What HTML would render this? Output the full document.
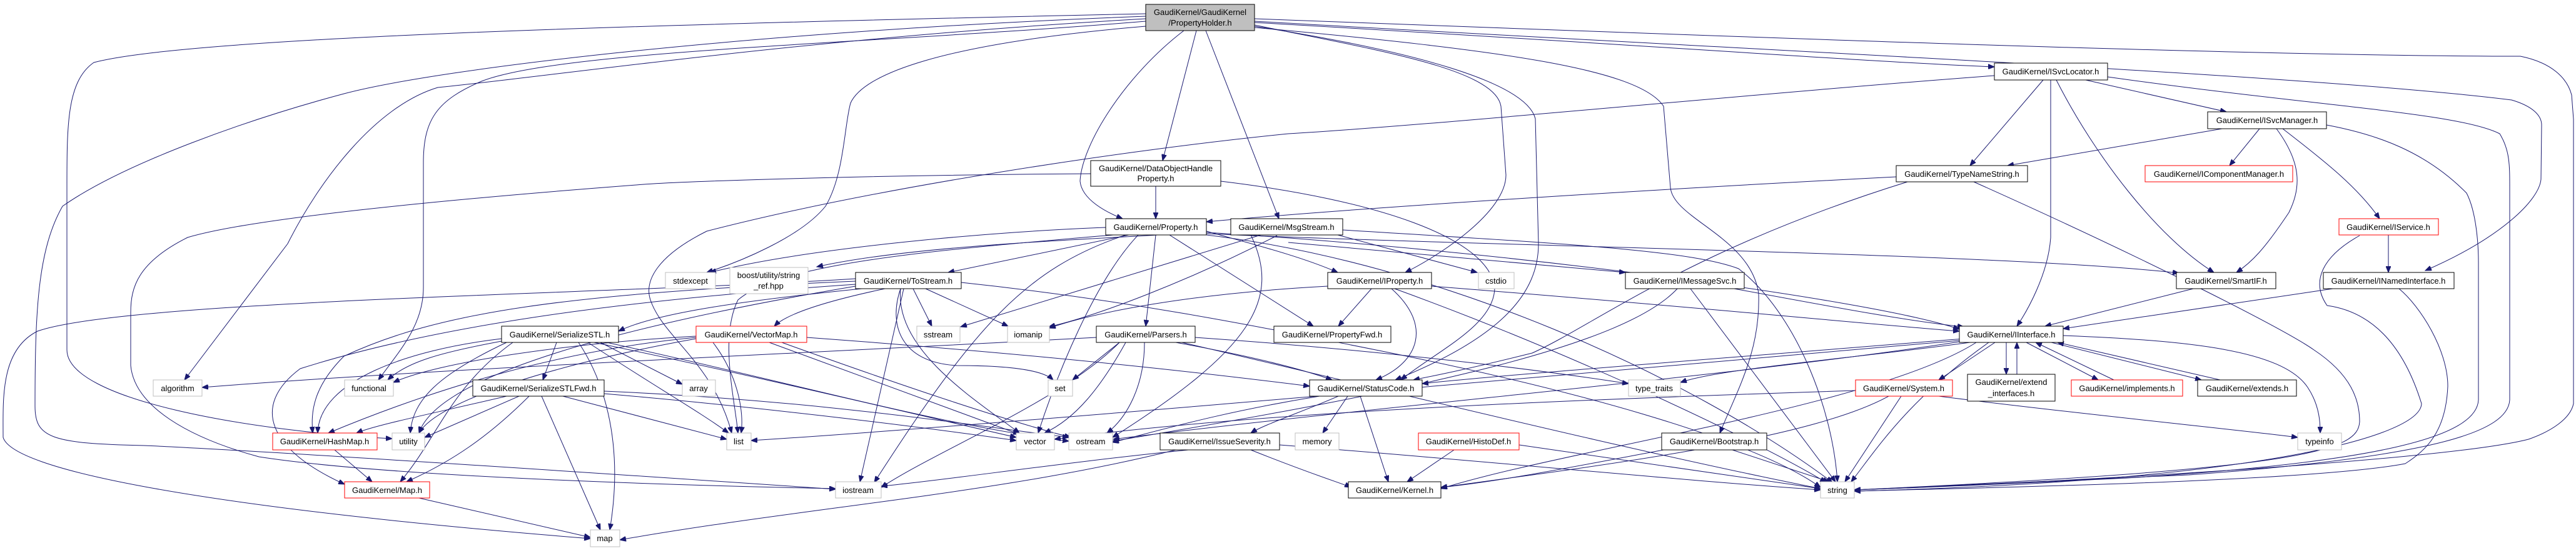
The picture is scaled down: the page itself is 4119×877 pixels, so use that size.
<!DOCTYPE html>
<html><head><meta charset="utf-8"><style>
html,body{margin:0;padding:0;background:#fff;}
svg{display:block;}
text{font-family:"Liberation Sans",sans-serif;font-size:13px;fill:#000;text-anchor:middle;}
.e{fill:none;stroke:#191970;stroke-width:1;marker-end:url(#a);}
.b{fill:#fff;stroke:#000;stroke-width:1;}
.r{fill:#fff;stroke:#ff0000;stroke-width:1;}
.g{fill:#fff;stroke:#bfbfbf;stroke-width:1;}
</style></head><body>
<svg width="4119" height="877" viewBox="0 0 4119 877" xmlns="http://www.w3.org/2000/svg">
<defs><marker id="a" markerUnits="userSpaceOnUse" markerWidth="11" markerHeight="8" refX="10" refY="4" orient="auto"><path d="M0,0 L10,4 L0,8 z" fill="#191970" stroke="#191970"/></marker></defs>
<g>
<!-- PropertyHolder edges -->
<path class="e" d="M1832,22 C1000,40 300,60 150,100 C107,130 107,200 107,300 L107,560 C107,640 400,690 627,702"/>
<path class="e" d="M1832,26 C1200,50 700,110 550,150 C400,190 200,260 100,330 C60,400 56,500 56,650 C56,700 80,710 230,713 C400,720 1000,760 1336,783"/>
<path class="e" d="M1832,30 C1300,60 900,120 700,140 C600,170 510,290 460,390 L295,608"/>
<path class="e" d="M1832,34 C1400,70 900,80 770,130 C700,160 677,190 677,260 L677,460 C677,520 640,560 605,608"/>
<path class="e" d="M1832,42 C1500,70 1380,120 1360,165 C1350,200 1350,280 1320,330 C1280,380 1180,420 1130,436"/>
<path class="e" d="M1913,49 L1859,257"/>
<path class="e" d="M1893,49 C1800,120 1730,230 1727,290 C1730,320 1770,340 1795,350"/>
<path class="e" d="M1928,49 L2045,350"/>
<path class="e" d="M2006,40 C2200,80 2390,110 2400,170 L2408,280 C2408,340 2300,410 2247,436"/>
<path class="e" d="M2006,42 C2250,80 2440,130 2455,190 L2460,390 C2460,470 2400,540 2231,608"/>
<path class="e" d="M2006,44 C2400,80 2620,110 2660,170 L2671,300 C2675,350 2800,380 2812,470 C2815,560 2780,620 2750,693"/>
<path class="e" d="M2006,36 C2600,70 3000,100 3189,107"/>
<path class="e" d="M2006,30 C2800,60 3600,90 4030,90 C4080,100 4105,125 4112,152 L4115,191 L4115,646 C4110,670 4080,690 4043,703 C3900,740 3200,776 2965,784"/>
<path class="e" d="M2006,34 C2800,80 3700,120 4016,160 C4050,170 4064,185 4064,200 L4063,287 C4060,320 4000,380 3878,433"/>
<!-- ISvcLocator / DOHP long loops -->
<path class="e" d="M3189,121 C2800,150 2300,200 2060,214 C1800,240 1400,300 1130,370 C1050,410 1030,450 1040,480 C1060,540 1140,580 1170,693"/>
<path class="e" d="M1744,278 C1400,280 1100,290 1030,295 C700,320 400,350 300,380 C220,420 209,460 209,500 L209,585 C215,650 300,700 414,731 C600,760 1000,775 1336,782"/>
<path class="e" d="M1848,298 L1848,350"/>
<path class="e" d="M1952,290 C2200,320 2380,380 2390,460 C2390,520 2300,560 2240,608"/>
<!-- Property -->
<path class="e" d="M1768,364 C1600,370 1300,395 1135,436"/>
<path class="e" d="M1851,376 C1700,385 1450,395 1306,427"/>
<path class="e" d="M1805,376 L1516,436"/>
<path class="e" d="M1848,376 L1832,522"/>
<path class="e" d="M1800,376 C1640,430 1560,520 1398,772"/>
<path class="e" d="M1870,376 L2100,522"/>
<path class="e" d="M1929,370 C2000,390 2080,410 2139,436"/>
<path class="e" d="M1929,372 C2400,400 3000,480 3133,527"/>
<path class="e" d="M1929,374 C2400,395 3200,405 3484,437"/>
<path class="e" d="M1929,376 C2300,420 2700,600 2930,772"/>
<path class="e" d="M1820,376 C1750,450 1690,600 1660,693"/>
<path class="e" d="M1780,376 C1500,400 1250,420 1180,480 C1150,540 1175,640 1180,693"/>
<!-- MsgStream -->
<path class="e" d="M2016,376 L1536,523"/>
<path class="e" d="M2042,377 C1900,450 1753,506 1677,523"/>
<path class="e" d="M2139,376 L2362,436"/>
<path class="e" d="M2060,388 L2599,436"/>
<path class="e" d="M2147,368 C2500,390 2700,400 2780,430 C2870,500 2930,650 2938,771"/>
<path class="e" d="M2000,376 C2050,480 2000,560 1779,700"/>
<!-- ToStream -->
<path class="e" d="M1378,462 C1200,480 1050,500 989,530"/>
<path class="e" d="M1415,462 C1330,480 1260,500 1238,522"/>
<path class="e" d="M1460,462 L1490,522"/>
<path class="e" d="M1480,462 L1612,522"/>
<path class="e" d="M1440,462 C1420,520 1440,580 1530,585 C1630,585 1670,595 1684,608"/>
<path class="e" d="M1445,462 L1375,771"/>
<path class="e" d="M1440,462 C1430,560 1560,640 1630,693"/>
<path class="e" d="M1368,450 C900,470 700,500 550,570 C500,620 497,660 500,693"/>
<path class="e" d="M1368,455 C1000,480 700,520 480,590 C400,650 430,720 551,775"/>
<path class="e" d="M1368,446 C1000,470 200,480 60,530 C0,560 5,640 5,700 C20,750 300,810 944,862"/>
<path class="e" d="M1537,452 C1800,480 2000,520 2200,560 C2500,620 2800,700 2911,780"/>
<path class="e" d="M1368,458 C1000,520 700,600 670,693"/>
<!-- SerializeSTL -->
<path class="e" d="M890,548 L868,608"/>
<path class="e" d="M925,548 C960,600 1000,700 975,848"/>
<path class="e" d="M802,542 C650,560 510,610 508,693"/>
<path class="e" d="M820,548 C720,620 700,700 640,771"/>
<path class="e" d="M802,546 C700,565 650,580 620,608"/>
<path class="e" d="M810,548 C700,600 660,640 656,693"/>
<path class="e" d="M960,548 L1091,615"/>
<path class="e" d="M940,548 C1050,620 1120,660 1165,693"/>
<path class="e" d="M950,548 C1200,600 1450,660 1625,700"/>
<path class="e" d="M970,548 C1300,620 1500,680 1709,706"/>
<!-- VectorMap -->
<path class="e" d="M1230,548 L1630,695"/>
<path class="e" d="M1250,548 C1450,620 1600,670 1712,700"/>
<path class="e" d="M1290,540 C1700,570 1950,600 2094,618"/>
<path class="e" d="M1140,548 C1180,600 1190,660 1185,693"/>
<path class="e" d="M1113,540 C900,560 700,620 525,693"/>
<path class="e" d="M1113,538 C900,550 700,580 629,612"/>
<path class="e" d="M1113,542 C900,580 700,640 670,693"/>
<!-- Parsers -->
<path class="e" d="M1753,540 C1200,570 700,590 323,620"/>
<path class="e" d="M1790,548 L1715,608"/>
<path class="e" d="M1800,548 C1760,620 1720,670 1670,693"/>
<path class="e" d="M1830,548 C1830,620 1800,670 1770,693"/>
<path class="e" d="M1790,548 C1700,640 1500,720 1409,780"/>
<path class="e" d="M1880,548 C2000,570 2080,590 2130,608"/>
<path class="e" d="M1890,548 C2200,620 2600,720 2911,782"/>
<path class="e" d="M1911,540 C2200,560 2450,590 2604,614"/>
<!-- SerializeSTLFwd -->
<path class="e" d="M810,634 C700,660 600,680 570,693"/>
<path class="e" d="M830,634 L679,700"/>
<path class="e" d="M846,634 C780,700 720,740 650,771"/>
<path class="e" d="M866,634 L960,848"/>
<path class="e" d="M900,634 L1162,703"/>
<path class="e" d="M966,630 C1200,650 1450,680 1625,705"/>
<path class="e" d="M966,626 C1300,640 1550,680 1709,700"/>
<path class="e" d="M535,720 L595,771"/>
<path class="e" d="M670,797 L944,860"/>
<!-- IProperty -->
<path class="e" d="M2193,462 L2140,522"/>
<path class="e" d="M2289,458 C2700,490 3000,520 3133,530"/>
<path class="e" d="M2225,462 C2290,520 2270,580 2200,608"/>
<path class="e" d="M2230,462 C2500,560 2800,700 2920,772"/>
<path class="e" d="M2123,458 C1900,470 1750,500 1678,525"/>
<!-- IMessageSvc -->
<path class="e" d="M2773,462 C2950,495 3060,515 3140,523"/>
<path class="e" d="M2703,462 L2935,771"/>
<path class="e" d="M2682,462 C2600,550 2300,620 1779,706"/>
<!-- interfaces -->
<path class="e" d="M3507,462 L3270,522"/>
<path class="e" d="M3730,462 L3299,526"/>
<path class="e" d="M3836,462 C3870,490 3914,560 3914,618 C3911,691 3880,720 3846,742 C3700,770 3200,780 2965,786"/>
<path class="e" d="M3819,376 L3819,436"/>
<path class="e" d="M3773,377 C3714,410 3694,450 3721,489 C3800,500 3846,562 3872,646 C3870,700 3600,770 2965,786"/>
<path class="e" d="M3267,128 L3150,265"/>
<path class="e" d="M3279,128 L3279,380 C3275,440 3240,500 3225,522"/>
<path class="e" d="M3288,128 C3350,250 3450,380 3540,436"/>
<path class="e" d="M3335,128 L3560,179"/>
<path class="e" d="M3370,123 C3700,170 3930,180 3997,214 C4013,240 4013,264 4013,300 L4013,640 C4010,690 3900,730 3500,760 C3200,775 3000,782 2965,784"/>
<path class="e" d="M3720,200 C3800,215 3878,242 3944,309 C3960,340 3963,393 3963,420 L3963,640 C3960,700 3800,740 3400,765 C3100,780 2990,783 2965,784"/>
<path class="e" d="M3156,291 C3400,400 3648,523 3700,560 C3760,600 3773,640 3773,675 C3770,720 3700,750 2965,784"/>
<path class="e" d="M3553,206 L3210,265"/>
<path class="e" d="M3613,206 L3565,265"/>
<path class="e" d="M3640,206 C3680,260 3680,300 3660,340 C3620,400 3600,420 3576,436"/>
<path class="e" d="M3650,206 C3720,260 3770,300 3805,350"/>
<path class="e" d="M3032,283 C2700,300 2200,330 1929,355"/>
<path class="e" d="M3050,291 C2700,400 2550,520 2450,565 C2350,590 2300,600 2260,608"/>
<!-- IInterface -->
<path class="e" d="M3208,548 L3208,599"/>
<path class="e" d="M3225,599 L3225,548"/>
<path class="e" d="M3240,548 L3355,608"/>
<path class="e" d="M3380,608 L3255,548"/>
<path class="e" d="M3280,548 L3520,608"/>
<path class="e" d="M3550,608 L3290,548"/>
<path class="e" d="M3299,537 C3500,545 3650,560 3690,620 C3710,650 3710,680 3710,693"/>
<path class="e" d="M3140,542 C2800,570 2400,600 2274,614"/>
<path class="e" d="M3150,548 C2950,575 2750,590 2687,612"/>
<path class="e" d="M3190,548 L3100,608"/>
<path class="e" d="M3145,545 C2800,600 2200,650 1780,703"/>
<path class="e" d="M3133,545 C2500,600 1600,680 1201,705"/>
<path class="e" d="M3180,548 C3050,640 3000,720 2960,771"/>
<path class="e" d="M3160,548 C3000,650 2500,720 2304,782"/>
<!-- System -->
<path class="e" d="M3040,634 L2950,771"/>
<path class="e" d="M3020,634 C2900,700 2600,740 2304,780"/>
<path class="e" d="M3100,634 C3300,660 3600,690 3674,700"/>
<path class="e" d="M2967,625 C2500,640 2000,660 1686,703"/>
<!-- StatusCode -->
<path class="e" d="M2155,634 L2115,693"/>
<path class="e" d="M2175,634 L2220,771"/>
<path class="e" d="M2140,634 C2080,660 2020,680 2000,693"/>
<path class="e" d="M2110,634 C1950,660 1850,690 1779,708"/>
<!-- IssueSeverity, HistoDef, Bootstrap -->
<path class="e" d="M2000,720 C2100,760 2150,775 2160,780"/>
<path class="e" d="M1900,720 C1700,740 1500,770 1409,778"/>
<path class="e" d="M1880,720 C1600,790 1300,810 991,864"/>
<path class="e" d="M2046,712 C2400,740 2700,770 2911,784"/>
<path class="e" d="M2325,720 L2250,771"/>
<path class="e" d="M2429,712 L2911,782"/>
<path class="e" d="M2660,720 C2500,750 2400,770 2304,780"/>
<path class="e" d="M2770,720 L2925,771"/>
</g>
<g>
<rect class="b" x="1832" y="7" width="174" height="42" style="fill:#bfbfbf"/><text x="1919" y="24">GaudiKernel/GaudiKernel</text><text x="1919" y="41">/PropertyHolder.h</text>
<rect class="b" x="1744" y="257" width="208" height="41"/><text x="1848" y="274">GaudiKernel/DataObjectHandle</text><text x="1848" y="290">Property.h</text>
<rect class="b" x="1768" y="350" width="161" height="26"/><text x="1848" y="368">GaudiKernel/Property.h</text>
<rect class="b" x="1968" y="350" width="179" height="26"/><text x="2057" y="368">GaudiKernel/MsgStream.h</text>
<rect class="g" x="1064" y="436" width="80" height="26"/><text x="1104" y="454">stdexcept</text>
<rect class="g" x="1167" y="428" width="125" height="42"/><text x="1229" y="445">boost/utility/string</text><text x="1229" y="462">_ref.hpp</text>
<rect class="b" x="1368" y="436" width="169" height="26"/><text x="1452" y="454">GaudiKernel/ToStream.h</text>
<rect class="b" x="2123" y="436" width="166" height="26"/><text x="2206" y="454">GaudiKernel/IProperty.h</text>
<rect class="g" x="2364" y="436" width="57" height="26"/><text x="2392" y="454">cstdio</text>
<rect class="b" x="2599" y="436" width="190" height="26"/><text x="2694" y="454">GaudiKernel/IMessageSvc.h</text>
<rect class="b" x="3480" y="436" width="159" height="26"/><text x="3559" y="454">GaudiKernel/SmartIF.h</text>
<rect class="b" x="3715" y="436" width="209" height="26"/><text x="3819" y="454">GaudiKernel/INamedInterface.h</text>
<rect class="b" x="802" y="522" width="187" height="26"/><text x="895" y="540">GaudiKernel/SerializeSTL.h</text>
<rect class="r" x="1113" y="522" width="177" height="26"/><text x="1201" y="540">GaudiKernel/VectorMap.h</text>
<rect class="g" x="1466" y="522" width="69" height="26"/><text x="1500" y="540">sstream</text>
<rect class="g" x="1611" y="522" width="67" height="26"/><text x="1644" y="540">iomanip</text>
<rect class="b" x="1753" y="522" width="158" height="26"/><text x="1832" y="540">GaudiKernel/Parsers.h</text>
<rect class="b" x="2037" y="522" width="187" height="26"/><text x="2130" y="540">GaudiKernel/PropertyFwd.h</text>
<rect class="b" x="3133" y="522" width="166" height="26"/><text x="3216" y="540">GaudiKernel/IInterface.h</text>
<rect class="g" x="245" y="608" width="78" height="26"/><text x="284" y="626">algorithm</text>
<rect class="g" x="551" y="608" width="78" height="26"/><text x="590" y="626">functional</text>
<rect class="b" x="756" y="608" width="210" height="26"/><text x="861" y="626">GaudiKernel/SerializeSTLFwd.h</text>
<rect class="g" x="1091" y="608" width="53" height="26"/><text x="1117" y="626">array</text>
<rect class="g" x="1676" y="608" width="39" height="26"/><text x="1695" y="626">set</text>
<rect class="b" x="2094" y="608" width="180" height="26"/><text x="2184" y="626">GaudiKernel/StatusCode.h</text>
<rect class="g" x="2604" y="608" width="83" height="26"/><text x="2645" y="626">type_traits</text>
<rect class="r" x="2967" y="608" width="155" height="26"/><text x="3044" y="626">GaudiKernel/System.h</text>
<rect class="b" x="3146" y="599" width="140" height="43"/><text x="3216" y="616">GaudiKernel/extend</text><text x="3216" y="634">_interfaces.h</text>
<rect class="r" x="3312" y="608" width="178" height="26"/><text x="3401" y="626">GaudiKernel/implements.h</text>
<rect class="b" x="3514" y="608" width="158" height="26"/><text x="3593" y="626">GaudiKernel/extends.h</text>
<rect class="r" x="436" y="693" width="167" height="27"/><text x="519" y="711">GaudiKernel/HashMap.h</text>
<rect class="g" x="627" y="693" width="52" height="27"/><text x="653" y="711">utility</text>
<rect class="g" x="1162" y="693" width="39" height="27"/><text x="1181" y="711">list</text>
<rect class="g" x="1625" y="693" width="61" height="27"/><text x="1655" y="711">vector</text>
<rect class="g" x="1709" y="693" width="70" height="27"/><text x="1744" y="711">ostream</text>
<rect class="b" x="1855" y="693" width="191" height="27"/><text x="1950" y="711">GaudiKernel/IssueSeverity.h</text>
<rect class="g" x="2071" y="693" width="70" height="27"/><text x="2106" y="711">memory</text>
<rect class="r" x="2268" y="693" width="161" height="27"/><text x="2348" y="711">GaudiKernel/HistoDef.h</text>
<rect class="b" x="2657" y="693" width="168" height="27"/><text x="2741" y="711">GaudiKernel/Bootstrap.h</text>
<rect class="g" x="3674" y="693" width="70" height="27"/><text x="3709" y="711">typeinfo</text>
<rect class="r" x="551" y="771" width="136" height="26"/><text x="619" y="789">GaudiKernel/Map.h</text>
<rect class="g" x="1336" y="771" width="73" height="26"/><text x="1372" y="789">iostream</text>
<rect class="b" x="2156" y="771" width="148" height="26"/><text x="2230" y="789">GaudiKernel/Kernel.h</text>
<rect class="g" x="2911" y="771" width="54" height="26"/><text x="2938" y="789">string</text>
<rect class="g" x="944" y="848" width="47" height="27"/><text x="967" y="866">map</text>
<rect class="b" x="3189" y="101" width="181" height="27"/><text x="3279" y="119">GaudiKernel/ISvcLocator.h</text>
<rect class="b" x="3530" y="179" width="190" height="27"/><text x="3625" y="197">GaudiKernel/ISvcManager.h</text>
<rect class="b" x="3032" y="265" width="210" height="26"/><text x="3137" y="283">GaudiKernel/TypeNameString.h</text>
<rect class="r" x="3430" y="265" width="236" height="26"/><text x="3548" y="283">GaudiKernel/IComponentManager.h</text>
<rect class="r" x="3740" y="350" width="159" height="26"/><text x="3819" y="368">GaudiKernel/IService.h</text>
</g>
</svg>
</body></html>
